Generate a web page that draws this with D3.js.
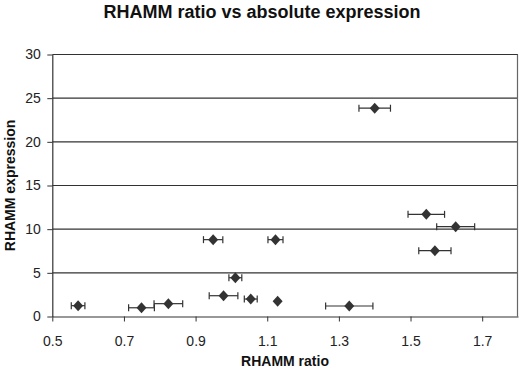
<!DOCTYPE html>
<html><head><meta charset="utf-8">
<script src="https://cdn.jsdelivr.net/npm/d3@7"></script>
<style>body{margin:0;background:#fff}svg{display:block}text{font-family:"Liberation Sans",Arial,sans-serif}</style>
</head><body>
<script>
const ratio = [0.572, 0.749, 0.824, 0.949, 1.011, 0.978, 1.054, 1.123, 1.129, 1.329, 1.400, 1.544, 1.626, 1.568];
const expression = [1.24, 1.0, 1.47, 8.8, 4.44, 2.38, 2.0, 8.8, 1.74, 1.2, 23.85, 11.7, 10.29, 7.54];
const ratioErr = [0.019, 0.036, 0.040, 0.027, 0.018, 0.040, 0.018, 0.021, 0, 0.066, 0.044, 0.051, 0.053, 0.045];
const xTicks = [0.5, 0.7, 0.9, 1.1, 1.3, 1.5, 1.7];
const yTicks = [0, 5, 10, 15, 20, 25, 30];

const W = 520, H = 375;
const svg = d3.select("body").append("svg").attr("width", W).attr("height", H);
const x = d3.scaleLinear().domain([0.5, 1.8]).range([52.3, 518]);
const y = d3.scaleLinear().domain([0, 30]).range([316.5, 54.5]);

// gridlines
svg.append("g").selectAll("line").data(yTicks.filter(d => d > 0)).join("line")
  .attr("x1", x(0.5)).attr("x2", x(1.8)).attr("y1", d => y(d)).attr("y2", d => y(d))
  .attr("stroke", "#333").attr("stroke-width", 1.2);
// right border
svg.append("line").attr("x1", x(1.8)-0.5).attr("x2", x(1.8)-0.5).attr("y1", y(30)).attr("y2", y(0))
  .attr("stroke", "#666").attr("stroke-width", 1.2);

const xAxis = svg.append("g").attr("transform", `translate(0,${y(0)})`)
  .call(d3.axisBottom(x).tickValues(xTicks).tickSize(5).tickSizeOuter(0).tickFormat(d3.format(".1f")));
const yAxis = svg.append("g").attr("transform", `translate(${x(0.5)},0)`)
  .call(d3.axisLeft(y).tickValues(yTicks).tickSize(5).tickSizeOuter(0));
[xAxis, yAxis].forEach(g => {
  g.select(".domain").attr("stroke", "#333").attr("stroke-width", 1.2);
  g.selectAll(".tick line").attr("stroke", "#333");
  g.selectAll("text").attr("font-size", 14).attr("fill", "#222");
});
xAxis.selectAll("text").attr("dy", "1.55em");
yAxis.selectAll("text").attr("dx", "-0.25em");

// error bars
const pts = ratio.map((r, i) => ({r, e: expression[i], err: ratioErr[i]}));
const eb = svg.append("g").attr("stroke", "#333").attr("stroke-width", 1.2);
pts.filter(d => d.err > 0).forEach(d => {
  const yy = y(d.e);
  eb.append("line").attr("x1", x(d.r - d.err)).attr("x2", x(d.r + d.err)).attr("y1", yy).attr("y2", yy);
  eb.append("line").attr("x1", x(d.r - d.err)).attr("x2", x(d.r - d.err)).attr("y1", yy - 3.5).attr("y2", yy + 3.5);
  eb.append("line").attr("x1", x(d.r + d.err)).attr("x2", x(d.r + d.err)).attr("y1", yy - 3.5).attr("y2", yy + 3.5);
});
// markers
svg.append("g").selectAll("path").data(pts).join("path")
  .attr("transform", d => `translate(${x(d.r)},${y(d.e)})`)
  .attr("d", "M0,-5.5L5,0L0,5.5L-5,0Z")
  .attr("fill", "#333");

svg.append("text").attr("x", 262).attr("y", 18).attr("text-anchor", "middle")
  .attr("font-size", 18).attr("font-weight", "bold").attr("fill", "#111")
  .text("RHAMM ratio vs absolute expression");
svg.append("text").attr("x", 285).attr("y", 366).attr("text-anchor", "middle")
  .attr("font-size", 14).attr("font-weight", "bold").attr("fill", "#111").text("RHAMM ratio");
svg.append("text").attr("transform", `translate(10,${(y(0)+y(30))/2}) rotate(-90)`).attr("text-anchor", "middle")
  .attr("dy", "0.35em").attr("font-size", 14).attr("font-weight", "bold").attr("fill", "#111").text("RHAMM expression");
</script>
</body></html>
